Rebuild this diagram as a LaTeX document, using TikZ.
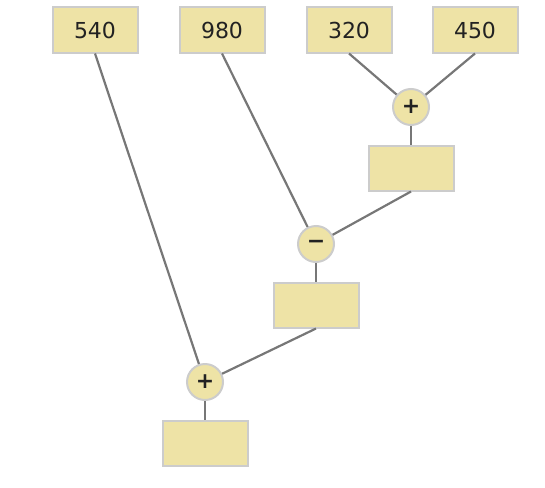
\documentclass[tikz,border=0pt]{standalone}
\usepackage{fontspec}
\setmainfont{DejaVu Sans}
\definecolor{boxfill}{HTML}{EEE3A6}
\definecolor{boxline}{HTML}{CCCCCC}
\definecolor{wire}{HTML}{777777}
\definecolor{ink}{HTML}{222222}
\tikzset{
  numbox/.style={draw=boxline, fill=boxfill, line width=2pt, minimum width=85pt, minimum height=45pt, inner sep=0pt, text=ink, font=\fontsize{22}{24}\selectfont},
  opnode/.style={circle, draw=boxline, fill=boxfill, line width=2pt, minimum size=36pt, inner sep=0pt, text=ink, font=\fontsize{22}{24}\selectfont\bfseries},
  wire/.style={draw=wire, line width=2.2pt}
}
\begin{document}
\begin{tikzpicture}[x=1pt,y=-1pt]
\useasboundingbox (0,0) rectangle (545,487);
    \node [numbox] (n540) at (95,30) {540};
    \node [numbox] (n980) at (222,30) {980};
    \node [numbox] (n320) at (349,30) {320};
    \node [numbox] (n450) at (475,30) {450};
%   first sum
    \node [opnode] (plusA) at (411,107) {+};
    \node [numbox] (resA) at (411,168) {};
%   difference
    \node [opnode] (minus) at (316,244) {−};
    \node [numbox] (resB) at (316,305) {};
%   last sum
    \node [opnode] (plusB) at (205,382) {+};
    \node [numbox] (resC) at (205,443) {};
%   wires
    \draw [wire] (n320.south) -- (plusA);
    \draw [wire] (n450.south) -- (plusA);
    \draw [wire] (plusA) -- (resA);
    \draw [wire] (resA.south) -- (minus);
    \draw [wire] (n980.south) -- (minus);
    \draw [wire] (minus) -- (resB);
    \draw [wire] (resB.south) -- (plusB);
    \draw [wire] (n540.south) -- (plusB);
    \draw [wire] (plusB) -- (resC);
\end{tikzpicture}
\end{document}
